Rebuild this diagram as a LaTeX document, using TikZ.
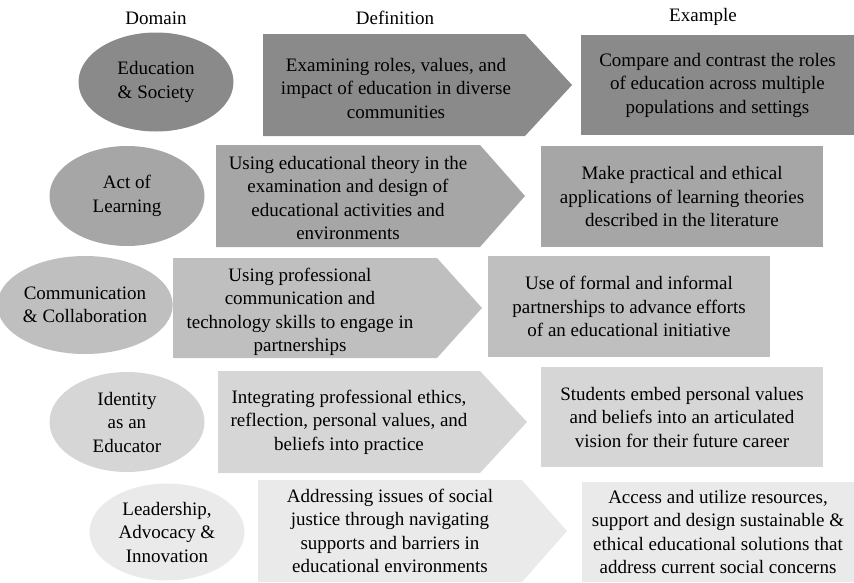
\documentclass[tikz,border=0pt]{standalone}
\usepackage{fontspec}
\setmainfont{Liberation Serif}
\usetikzlibrary{shapes.geometric}
\definecolor{shadeA}{HTML}{8A8A8A}
\definecolor{shadeB}{HTML}{A6A6A6}
\definecolor{shadeC}{HTML}{BFBFBF}
\definecolor{shadeD}{HTML}{D6D6D6}
\definecolor{shadeE}{HTML}{EAEAEA}
\tikzset{
  bodyfont/.style={font=\fontsize{19}{23.5}\selectfont},
  domainnode/.style={ellipse, bodyfont, align=center, inner sep=0pt,
    minimum width=155pt, minimum height=99pt},
  deftext/.style={bodyfont, align=center},
  examplebox/.style={rectangle, bodyfont, align=center, inner sep=0pt},
  heading/.style={bodyfont}
}
\begin{document}
\begin{tikzpicture}[x=1pt,y=-1pt]
  \useasboundingbox (0,0) rectangle (854,582);
  \node[heading] (hdom) at (156,18) {Domain};
  \node[heading] (hdef) at (395,18) {Definition};
  \node[heading] (hex) at (703,17) {Example};

  \node[domainnode, fill=shadeA] (d1) at (156,82) {Education\\\& Society};
  \fill[shadeA] (263,34) -- (525,34) -- (572,85) -- (525,136) -- (263,136) -- cycle;
  \node[deftext] (def1) at (396,88) {Examining roles, values, and\\impact of education in diverse\\communities};
  \node[examplebox, fill=shadeA, minimum width=273pt, minimum height=100pt] (ex1) at (717.5,85)
    {Compare and contrast the roles\\of education across multiple\\populations and settings};

  \node[domainnode, fill=shadeB, minimum height=100pt] (d2) at (127,196) {Act of\\Learning};
  \fill[shadeB] (216,145) -- (480,145) -- (525,196) -- (480,247) -- (216,247) -- cycle;
  \node[deftext] (def2) at (348,198) {Using educational theory in the\\examination and design of\\educational activities and\\environments};
  \node[examplebox, fill=shadeB, minimum width=282pt, minimum height=101pt] (ex2) at (682,196.5)
    {Make practical and ethical\\applications of learning theories\\described in the literature};

  \node[domainnode, fill=shadeC, minimum width=156pt, minimum height=98pt] (d3) at (85,305) {Communication\\\& Collaboration};
  \fill[shadeC] (173,258) -- (437,258) -- (482,308) -- (437,358) -- (173,358) -- cycle;
  \node[deftext] (def3) at (300,312) {Using professional\\communication and\\technology skills to engage in\\partnerships};
  \node[examplebox, fill=shadeC, minimum width=282pt, minimum height=101pt] (ex3) at (629,306.5)
    {Use of formal and informal\\partnerships to advance efforts\\of an educational initiative};

  \node[domainnode, fill=shadeD, minimum height=100pt] (d4) at (127,422) {Identity\\as an\\Educator};
  \fill[shadeD] (218,371) -- (480,371) -- (527,422) -- (480,473) -- (218,473) -- cycle;
  \node[deftext] (def4) at (349,422) {Integrating professional ethics,\\reflection, personal values, and\\beliefs into practice};
  \node[examplebox, fill=shadeD, minimum width=282pt, minimum height=100pt] (ex4) at (682,417)
    {Students embed personal values\\and beliefs into an articulated\\vision for their future career};

  \node[domainnode, fill=shadeE, minimum height=97pt] (d5) at (167,532) {Leadership,\\Advocacy \&\\Innovation};
  \fill[shadeE] (258,480) -- (522,480) -- (567,531) -- (522,582) -- (258,582) -- cycle;
  \node[deftext] (def5) at (390,531) {Addressing issues of social\\justice through navigating\\supports and barriers in\\educational environments};
  \node[examplebox, fill=shadeE, minimum width=272pt, minimum height=100pt] (ex5) at (718,532)
    {Access and utilize resources,\\support and design sustainable \&\\ethical educational solutions that\\address current social concerns};
\end{tikzpicture}
\end{document}
